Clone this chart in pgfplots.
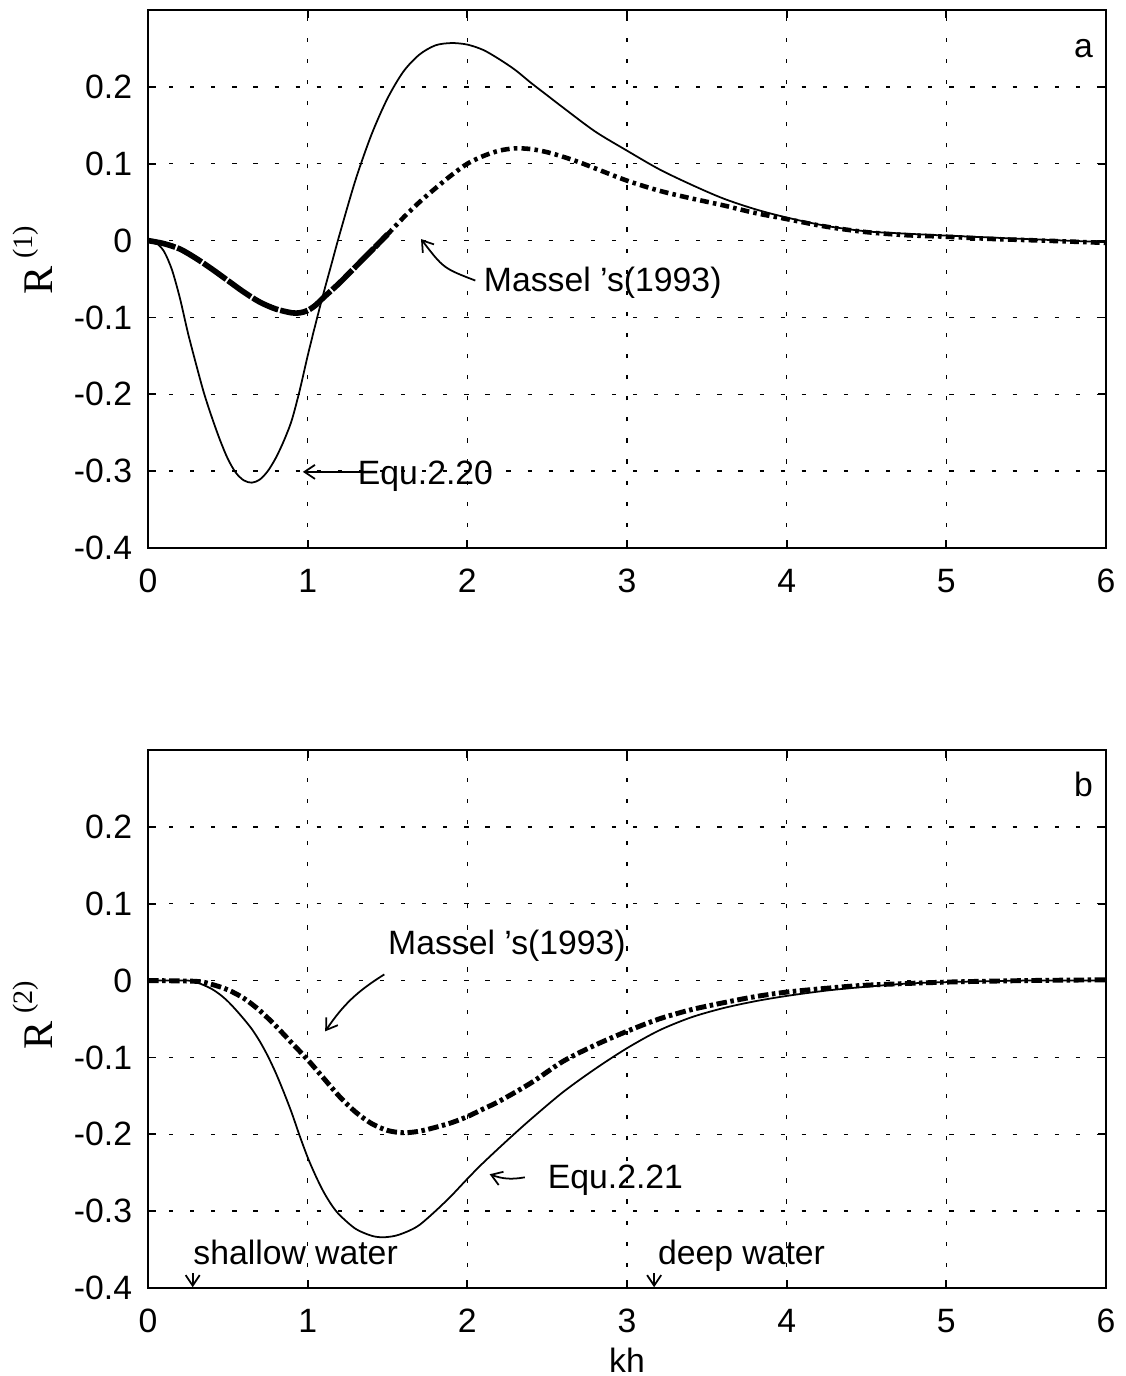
\documentclass[border=0pt]{standalone}
\usepackage{fontspec}
\setmainfont{Liberation Sans}
\newfontfamily\serif{Liberation Serif}
\usepackage{pgfplots}
\pgfplotsset{compat=1.18}
\usetikzlibrary{arrows.meta}
\newcommand{\fs}{\fontsize{9.6}{11.5}\selectfont}
\newcommand{\Rlab}[1]{{\serif\fontsize{12}{14}\selectfont R\hspace{2.3pt}\raisebox{5.7pt}{\fontsize{8}{9}\selectfont(#1)}}}
\pgfplotsset{myax/.style={
  scale only axis, width=9.58cm, height=5.38cm,
  xmin=0, xmax=6, ymin=-0.4, ymax=0.3,
  xtick={0,1,2,3,4,5,6}, xticklabels={0,1,2,3,4,5,6},
  ytick={-0.4,-0.3,-0.2,-0.1,0,0.1,0.2},
  yticklabels={-0.4,-0.3,-0.2,-0.1,0,0.1,0.2},
  tick align=inside, major tick length=0.08cm,
  grid=major,
  major grid style={black, line width=0.4pt, dash pattern=on 1.2pt off 4.8pt},
  axis line style={line width=0.6pt},
  tick style={black, line width=0.5pt},
  ticklabel style={font=\fs},
  xticklabel style={yshift=-2.5pt},
  yticklabel style={xshift=-1pt},
  xlabel style={at={(axis description cs:0.5,0)}, anchor=center, yshift=-0.72cm, font=\fs},
  every axis plot/.append style={black},
}}
\tikzset{ann/.style={font=\fs, inner sep=0pt}, arr/.style={-{Straight Barb[length=3pt,width=4pt]}, line width=0.5pt}}
\begin{document}
\begin{tikzpicture}
% top axis
\begin{axis}[myax, at={(1.48cm,8.28cm)}, anchor=south west, ylabel={\Rlab{1}},
  ylabel style={at={(axis description cs:-0.120,0.535)}, anchor=center}]
\addplot[line width=0.5pt, smooth] coordinates {
(0,0) (0.05,-0.003) (0.1,-0.014) (0.15,-0.038) (0.2,-0.075) (0.25,-0.120) (0.3,-0.160)
(0.35,-0.198) (0.4,-0.230) (0.45,-0.259) (0.5,-0.284) (0.55,-0.302) (0.6,-0.312)
(0.65,-0.315) (0.7,-0.311) (0.75,-0.300) (0.8,-0.283) (0.85,-0.261) (0.9,-0.234)
(0.95,-0.195) (1.0,-0.150) (1.05,-0.108) (1.1,-0.068) (1.15,-0.030) (1.2,0.008)
(1.3,0.079) (1.4,0.138) (1.5,0.185) (1.6,0.220) (1.7,0.242) (1.8,0.254) (1.9,0.257)
(2.0,0.255) (2.1,0.248) (2.2,0.236) (2.3,0.222) (2.4,0.205) (2.5,0.189) (2.6,0.173)
(2.8,0.142) (3.0,0.117) (3.2,0.093) (3.4,0.073) (3.6,0.055) (3.8,0.041) (4.0,0.030)
(4.25,0.019) (4.5,0.012) (4.75,0.009) (5.0,0.0065) (5.5,0.002) (6,-0.002)};
\addplot[line width=1.6pt, smooth, dash pattern=on 8pt off 0.6pt] coordinates {
(0,0) (0.1,-0.004) (0.2,-0.011) (0.3,-0.023) (0.4,-0.037) (0.5,-0.052) (0.6,-0.067)
(0.7,-0.080) (0.8,-0.089) (0.9,-0.094) (0.95,-0.094) (1.0,-0.091) (1.05,-0.084)
(1.1,-0.074) (1.2,-0.055) (1.3,-0.034) (1.4,-0.013) (1.5,0.008)};
\addplot[line width=1.3pt, smooth, dash pattern=on 2.5pt off 1.2pt on 1pt off 1.2pt] coordinates {
(1.4,-0.013) (1.5,0.008) (1.6,0.030) (1.7,0.050) (1.8,0.068) (1.9,0.085) (2.0,0.100)
(2.1,0.110) (2.2,0.117) (2.3,0.120) (2.4,0.119) (2.5,0.115) (2.6,0.109) (2.7,0.102)
(2.8,0.094) (3.0,0.078) (3.2,0.065) (3.4,0.055) (3.6,0.046) (3.8,0.036) (4.0,0.028)
(4.25,0.018) (4.5,0.011) (4.75,0.007) (5.0,0.005) (5.3,0.002) (5.6,0.0) (6,-0.003)};
\node[ann, anchor=base] at (axis cs:5.86,0.238) {a};
\node[ann, anchor=base west] at (axis cs:2.10,-0.066) {Massel 's(1993)};
\draw[arr] (axis cs:2.05,-0.052) .. controls (axis cs:1.85,-0.036) .. (axis cs:1.71,0.002);
\node[ann, anchor=base west] at (axis cs:1.31,-0.318) {Equ.2.20};
\draw[arr] (axis cs:1.34,-0.301) -- (axis cs:0.97,-0.301);
\end{axis}
% bottom axis
\begin{axis}[myax, at={(1.48cm,0.88cm)}, anchor=south west, ylabel={\Rlab{2}}, xlabel={kh},
  ylabel style={at={(axis description cs:-0.120,0.507)}, anchor=center}]
\addplot[line width=0.5pt, smooth] coordinates {
(0,0) (0.25,0) (0.3,-0.002) (0.35,-0.006) (0.4,-0.011) (0.45,-0.018) (0.5,-0.027)
(0.55,-0.038) (0.6,-0.050) (0.65,-0.063) (0.7,-0.079) (0.75,-0.098) (0.8,-0.120)
(0.85,-0.145) (0.9,-0.172) (0.95,-0.202) (1.0,-0.230) (1.05,-0.254) (1.1,-0.275)
(1.15,-0.292) (1.2,-0.305) (1.3,-0.323) (1.4,-0.332) (1.47,-0.334) (1.55,-0.332)
(1.63,-0.326) (1.7,-0.318) (1.8,-0.300) (1.9,-0.280) (2.0,-0.258) (2.1,-0.237)
(2.26,-0.206) (2.4,-0.180) (2.6,-0.145) (2.8,-0.115) (3.0,-0.088) (3.2,-0.065)
(3.4,-0.048) (3.6,-0.036) (3.8,-0.027) (4.0,-0.020) (4.25,-0.013) (4.5,-0.008)
(4.75,-0.004) (5.0,-0.002) (5.5,0) (6,0)};
\addplot[line width=1.4pt, smooth, dash pattern=on 3pt off 1pt on 1pt off 1pt] coordinates {
(0,0) (0.3,-0.001) (0.4,-0.005) (0.5,-0.012) (0.6,-0.023) (0.7,-0.039) (0.8,-0.059)
(0.9,-0.081) (1.0,-0.103) (1.1,-0.127) (1.2,-0.151) (1.3,-0.171) (1.4,-0.186)
(1.5,-0.195) (1.6,-0.198) (1.7,-0.196) (1.8,-0.191) (1.9,-0.185) (2.0,-0.177)
(2.1,-0.167) (2.2,-0.157) (2.4,-0.133) (2.6,-0.105) (2.8,-0.084) (3.0,-0.066)
(3.2,-0.050) (3.4,-0.038) (3.6,-0.029) (3.8,-0.021) (4.0,-0.015) (4.25,-0.010)
(4.5,-0.006) (5.0,-0.002) (5.5,0) (6,0.001)};
\node[ann, anchor=base] at (axis cs:5.86,0.240) {b};
\node[ann, anchor=base west] at (axis cs:1.50,0.0345) {Massel 's(1993)};
\draw[arr] (axis cs:1.48,0.008) to[bend right=12] (axis cs:1.11,-0.066);
\node[ann, anchor=base west] at (axis cs:2.50,-0.271) {Equ.2.21};
\draw[arr] (axis cs:2.36,-0.256) to[bend left=15] (axis cs:2.14,-0.252);
\node[ann, anchor=base west] at (axis cs:0.28,-0.370) {shallow water};
\draw[arr] (axis cs:0.28,-0.381) -- (axis cs:0.28,-0.399);
\node[ann, anchor=base west] at (axis cs:3.19,-0.370) {deep water};
\draw[arr] (axis cs:3.17,-0.381) -- (axis cs:3.17,-0.399);
\end{axis}
\pgfresetboundingbox
\path[use as bounding box] (0,0) rectangle (11.25cm,13.76cm);
\end{tikzpicture}
\end{document}
